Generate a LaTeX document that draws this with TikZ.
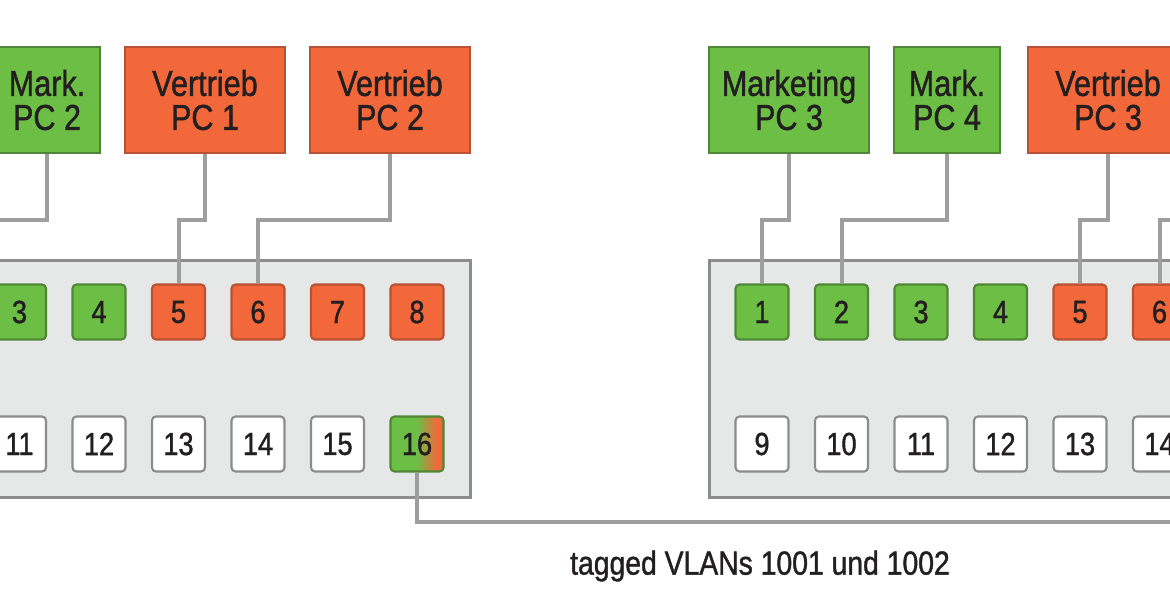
\documentclass[tikz,border=0pt]{standalone}
\usepackage{fontspec}
\setmainfont{Liberation Sans}[FakeStretch=0.85,FakeBold=1.2]

\definecolor{vgreen}{RGB}{108,190,69}
\definecolor{vgreenline}{RGB}{80,135,55}
\definecolor{vorange}{RGB}{242,104,58}
\definecolor{vorangeline}{RGB}{185,82,52}
\definecolor{swfill}{RGB}{230,231,231}
\definecolor{swline}{RGB}{140,140,140}
\definecolor{cable}{RGB}{158,158,158}
\definecolor{txt}{RGB}{35,31,32}

\pgfdeclarehorizontalshading{trunkshade}{100bp}{color(0bp)=(vgreen); color(50bp)=(vgreen); color(69bp)=(vorange); color(100bp)=(vorange)}

\tikzset{every picture/.style={line width=0.75pt}}
\tikzset{
  pc/.style={draw, line width=2pt, minimum height=79.5pt, inner sep=0pt, align=center, text=txt, font=\fontsize{27}{25.5}\selectfont},
  pcwide/.style={pc, minimum width=120pt},
  pcnarrow/.style={pc, minimum width=79.5pt},
  mkt/.style={fill=vgreen, draw=vgreenline},
  vtr/.style={fill=vorange, draw=vorangeline},
  switchbox/.style={draw=swline, fill=swfill, line width=2.25pt, minimum width=497.25pt, minimum height=177.75pt},
  port/.style={draw, rounded corners=3pt, line width=1.6pt, minimum width=39.75pt, minimum height=41.25pt, inner sep=0pt, text=txt, font=\fontsize{24}{24}\selectfont},
  portfree/.style={port, fill=white, draw=swline},
  porttrunk/.style={port, shade, shading=trunkshade, draw=vgreenline},
  wire/.style={draw=cable, line width=3pt}
}

\begin{document}
\begin{tikzpicture}[x=0.75pt,y=0.75pt,yscale=-1,xscale=1]
\useasboundingbox (0,0) rectangle (1170,610);
\clip (0,0) rectangle (1170,610);

%Switches
\node[switchbox] (lsw) at (138.5,378.5) {};
\node[switchbox] (rsw) at (1040.5,378.5) {};

%Ports left switch
\foreach \i [evaluate=\i as \x using -139.5+79.5*(\i-1)] in {1,...,4} {\node[port, mkt] (lp\i) at (\x,312) {\i};}
\foreach \i [evaluate=\i as \x using -139.5+79.5*(\i-1)] in {5,...,8} {\node[port, vtr] (lp\i) at (\x,312) {\i};}
\foreach \i [evaluate=\i as \x using -139.5+79.5*(\i-9)] in {9,...,15} {\node[portfree] (lp\i) at (\x,444) {\i};}
\node[porttrunk] (lp16) at (417,444) {16};

%Ports right switch
\foreach \i [evaluate=\i as \x using 762+79.5*(\i-1)] in {1,...,4} {\node[port, mkt] (rp\i) at (\x,312) {\i};}
\foreach \i [evaluate=\i as \x using 762+79.5*(\i-1)] in {5,...,8} {\node[port, vtr] (rp\i) at (\x,312) {\i};}
\foreach \i [evaluate=\i as \x using 762+79.5*(\i-9)] in {9,...,15} {\node[portfree] (rp\i) at (\x,444) {\i};}
\node[porttrunk] (rp16) at (1318.5,444) {16};

%PCs
\node[pcnarrow, mkt] (mpc2) at (47,100) {Mark.\\PC 2};
\node[pcwide, vtr] (vpc1) at (205,100) {Vertrieb\\PC 1};
\node[pcwide, vtr] (vpc2) at (390,100) {Vertrieb\\PC 2};
\node[pcwide, mkt] (mpc3) at (789,100) {Marketing\\PC 3};
\node[pcnarrow, mkt] (mpc4) at (947,100) {Mark.\\PC 4};
\node[pcwide, vtr] (vpc3) at (1108,100) {Vertrieb\\PC 3};
\coordinate (vpc4) at (1293,153);

%Cables
\coordinate (bus) at (0,220);
\coordinate (trunk) at (0,522);
\draw[wire] (mpc2.south) -- (mpc2.south |- bus) -| (lp2.north);
\draw[wire] (vpc1.south) -- (vpc1.south |- bus) -| (lp5.north);
\draw[wire] (vpc2.south) -- (vpc2.south |- bus) -| (lp6.north);
\draw[wire] (mpc3.south) -- (mpc3.south |- bus) -| (rp1.north);
\draw[wire] (mpc4.south) -- (mpc4.south |- bus) -| (rp2.north);
\draw[wire] (vpc3.south) -- (vpc3.south |- bus) -| (rp5.north);
\draw[wire] (vpc4) -- (vpc4 |- bus) -| (rp6.north);
\draw[wire] (lp16.south) -- (lp16.south |- trunk) -| (rp16.south);

\node[text=txt, font=\fontsize{25}{25}\selectfont] (vlans) at (760,566) {tagged VLANs 1001 und 1002};

\end{tikzpicture}
\end{document}
